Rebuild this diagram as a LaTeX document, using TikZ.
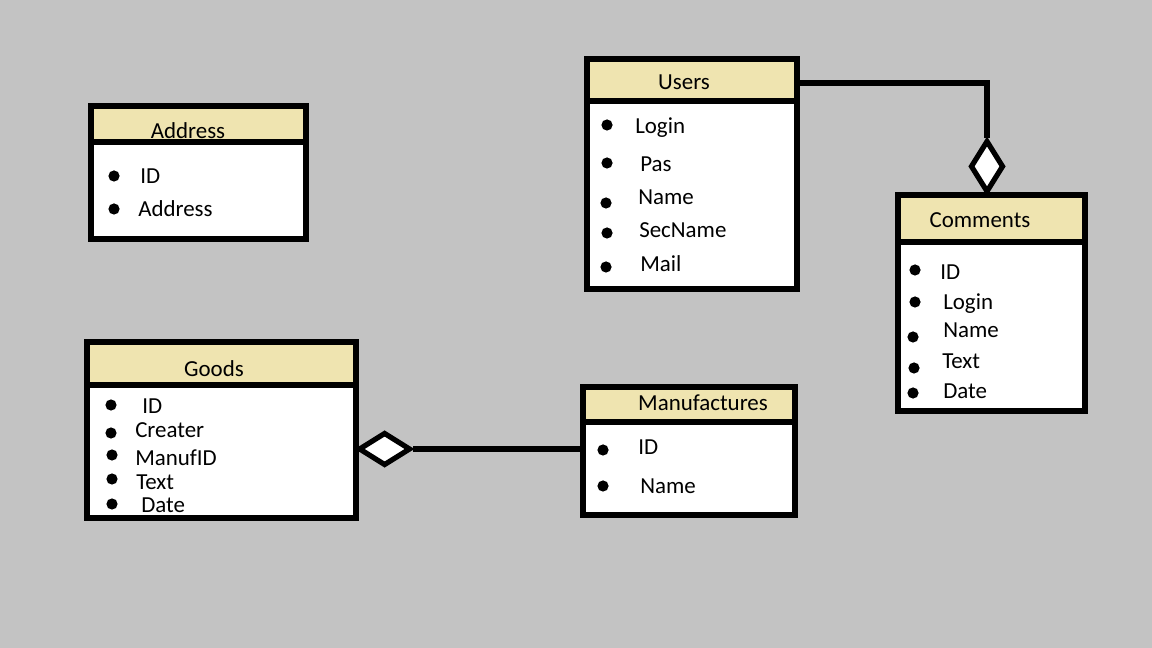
\documentclass[tikz,border=0pt]{standalone}
\usepackage{fontspec}
\setmainfont{Carlito}
\usetikzlibrary{fit,shapes.geometric}
\definecolor{bggray}{HTML}{C3C3C3}
\definecolor{cream}{HTML}{EFE4B0}

\begin{document}
\begin{tikzpicture}[x=0.025cm,y=-0.025cm,
  tbl/.style={draw,line width=0.13cm,fill=white,inner sep=0pt},
  hdr/.style={draw,line width=0.13cm,fill=cream,inner sep=0pt},
  ttl/.style={inner sep=0pt,yshift=-0.06cm,font=\fontsize{16.3}{19}\selectfont},
  attr/.style={anchor=west,inner sep=0pt,yshift=-0.07cm,text height=0.64em,text depth=0pt,font=\fontsize{16.3}{19}\selectfont},
  agg/.style={diamond,draw,line width=0.13cm,fill=white,inner sep=0pt},
  conn/.style={line width=0.13cm}]
\fill[bggray] (0,0) rectangle (1152,648);
\useasboundingbox (0,0) rectangle (1152,648);

% Address
\node[tbl,fit={(91,106) (306,239)}] (address) {};
\node[hdr,fit={(91,106) (306,142)}] (address-h) {};
\node[ttl] (address-t) at (188,128) {Address};
\fill (114,176) circle (0.14cm);
\fill (114,209) circle (0.14cm);
\node[attr] (address-1) at (140,176) {ID};
\node[attr] (address-2) at (138,209) {Address};

% Users
\node[tbl,fit={(587,59) (797,289)}] (users) {};
\node[hdr,fit={(587,59) (797,101)}] (users-h) {};
\node[ttl] (users-t) at (684,80) {Users};
\fill (607,125) circle (0.14cm);
\fill (607,163) circle (0.14cm);
\fill (606,203) circle (0.14cm);
\fill (607,233) circle (0.14cm);
\fill (606,267) circle (0.14cm);
\node[attr] (users-1) at (635,126) {Login};
\node[attr] (users-2) at (640,164) {Pas};
\node[attr] (users-3) at (638,197) {Name};
\node[attr] (users-4) at (639,230) {SecName};
\node[attr] (users-5) at (640,264) {Mail};

% Comments
\node[tbl,fit={(898,195) (1085,411)}] (comments) {};
\node[hdr,fit={(898,195) (1085,242)}] (comments-h) {};
\node[ttl] (comments-t) at (980,218) {Comments};
\fill (915,270) circle (0.14cm);
\fill (915,302) circle (0.14cm);
\fill (913,337) circle (0.14cm);
\fill (914,368) circle (0.14cm);
\fill (913,393) circle (0.14cm);
\node[attr] (comments-1) at (940,272) {ID};
\node[attr] (comments-2) at (943,302) {Login};
\node[attr] (comments-3) at (943,330) {Name};
\node[attr] (comments-4) at (942,361) {Text};
\node[attr] (comments-5) at (943,391) {Date};

% Goods
\node[tbl,fit={(87,342) (356,518)}] (goods) {};
\node[hdr,fit={(87,342) (356,385)}] (goods-h) {};
\node[ttl] (goods-t) at (214,366) {Goods};
\fill (111,405) circle (0.14cm);
\fill (111,433) circle (0.14cm);
\fill (112,455) circle (0.14cm);
\fill (112,479) circle (0.14cm);
\fill (112,504) circle (0.14cm);
\node[attr] (goods-1) at (142,406) {ID};
\node[attr] (goods-2) at (135,430) {Creater};
\node[attr] (goods-3) at (135,458) {ManufID};
\node[attr] (goods-4) at (136,482) {Text};
\node[attr] (goods-5) at (141,505) {Date};

% Manufactures
\node[tbl,fit={(583,387) (795,515)}] (manuf) {};
\node[hdr,fit={(583,387) (795,422)}] (manuf-h) {};
\node[ttl] (manuf-t) at (703,400) {Manufactures};
\fill (603,450) circle (0.14cm);
\fill (603,486) circle (0.14cm);
\node[attr] (manuf-1) at (638,447) {ID};
\node[attr] (manuf-2) at (640,486) {Name};

% aggregations
\node[agg,minimum width=0.83cm,minimum height=1.3cm,anchor=south] (agg1) at (987,195) {};
\node[agg,minimum width=1.3cm,minimum height=0.83cm,anchor=west] (agg2) at (356,449) {};
\draw[conn] ([yshift=-0.075cm]users-h.east) -| (agg1.north);
\draw[conn] (agg2.east) -- (agg2.east -| manuf.west);

\end{tikzpicture}
\end{document}
